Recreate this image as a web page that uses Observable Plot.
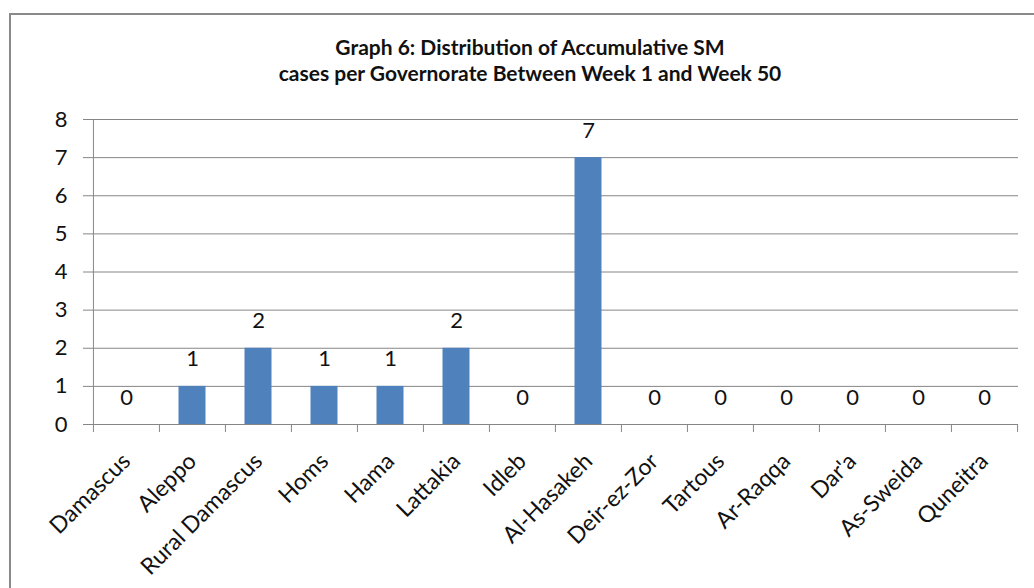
<!DOCTYPE html>
<html>
<head>
<meta charset="utf-8">
<script src="https://cdn.jsdelivr.net/npm/d3@7"></script>
<script src="https://cdn.jsdelivr.net/npm/@observablehq/plot@0.6"></script>
<style>
  body { margin: 0; background: #fff; }
  #wrap { position: relative; width: 1034px; height: 588px; overflow: hidden; background: #fff; }
  #frame { position: absolute; left: 9px; top: 13px; width: 1100px; height: 700px; border: 2px solid #8a8a8a; }
  #title { position: absolute; left: 230px; width: 600px; top: 34px; text-align: center;
           font-family: Lato, "Open Sans", sans-serif; font-weight: bold; font-size: 21px; line-height: 26px; color: #111; }
  #chart { position: absolute; left: 0; top: 100px; }
</style>
</head>
<body>
<div id="wrap">
  <div id="frame"></div>
  <div id="title">Graph 6: Distribution of Accumulative SM<br>cases per Governorate Between Week 1 and Week 50</div>
  <div id="chart"></div>
</div>
<script>
const categories = ["Damascus", "Aleppo", "Rural Damascus", "Homs", "Hama", "Lattakia", "Idleb",
  "Al-Hasakeh", "Deir-ez-Zor", "Tartous", "Ar-Raqqa", "Dar'a", "As-Sweida", "Quneitra"];
const cases = [0, 1, 2, 1, 1, 2, 0, 7, 0, 0, 0, 0, 0, 0];
const yTicks = [0, 1, 2, 3, 4, 5, 6, 7, 8];

const data = categories.map((c, i) => ({governorate: c, cases: cases[i]}));

const W = 1034, ML = 92, MR = 16;
const bw = (W - ML - MR) / categories.length;
const barColor = "#4F81BD";
const gridColor = "#868686";
const textColor = "#111";

const chart = Plot.plot({
  width: W,
  height: 488,
  marginLeft: ML,
  marginRight: MR,
  marginTop: 19,
  marginBottom: 164,
  style: {fontFamily: "Lato, 'Open Sans', sans-serif", fontSize: "22px", color: textColor, background: "transparent"},
  x: {domain: categories, padding: 0, label: null},
  y: {domain: [0, 8], label: null},
  marks: [
    Plot.ruleY(yTicks, {y: d => d, stroke: gridColor, strokeWidth: 1}),
    Plot.ruleX([categories[0]], {x: d => d, y1: 0, y2: 8, dx: -bw / 2, stroke: gridColor}),
    Plot.ruleX(categories, {x: d => d, y1: 0, y2: 0, insetBottom: -8, dx: -bw / 2, stroke: gridColor}),
    Plot.ruleX([categories[categories.length - 1]], {x: d => d, y1: 0, y2: 0, insetBottom: -8, dx: bw / 2, stroke: gridColor}),
    Plot.barY(data, {x: "governorate", y: "cases", fill: barColor, insetLeft: 19.5, insetRight: 19.5}),
    Plot.text(data, {x: "governorate", y: "cases", text: d => String(d.cases), dy: -27, fontSize: 22, fill: textColor}),
    Plot.axisY(yTicks, {tickSize: 9, tickPadding: 16, stroke: gridColor, fill: textColor, fontSize: 22, label: null}),
    Plot.axisX({tickRotate: -45, tickSize: 0, tickPadding: 33, fill: textColor, fontSize: 23, label: null})
  ]
});
document.getElementById("chart").appendChild(chart);
</script>
</body>
</html>
